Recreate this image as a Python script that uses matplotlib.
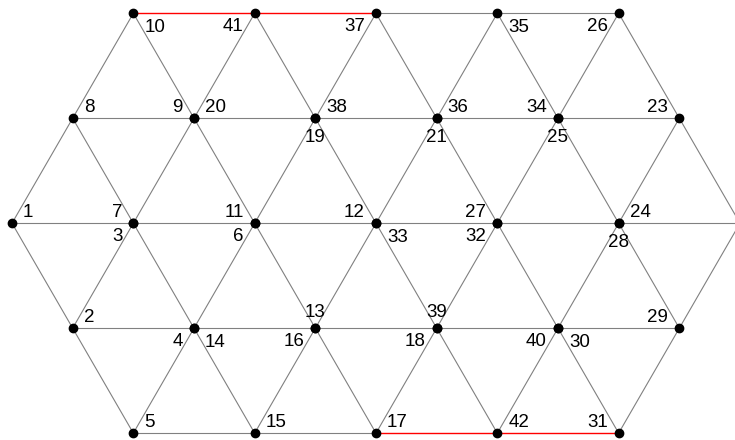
import matplotlib.pyplot as plt

# node labels and their positions (a label may share a point with another)
labels = list(range(1, 43))
node_x = [0.0, 0.5, 1.0, 1.5, 1.0, 2.0, 1.0, 0.5, 1.5, 1.0,
          2.0, 3.0, 2.5, 1.5, 2.0, 2.5, 3.0, 3.5, 2.5, 1.5,
          3.5, 6.0, 5.5, 5.0, 4.5, 5.0, 4.0, 5.0, 5.5, 4.5,
          5.0, 4.0, 3.0, 4.5, 4.0, 3.5, 3.0, 2.5, 3.5, 4.5,
          2.0, 4.0]
node_y = [1.732, 0.866, 1.732, 0.866, 0.0, 1.732, 1.732, 2.598, 2.598, 3.464,
          1.732, 1.732, 0.866, 0.866, 0.0, 0.866, 0.0, 0.866, 2.598, 2.598,
          2.598, 1.732, 2.598, 1.732, 2.598, 3.464, 1.732, 1.732, 0.866, 0.866,
          0.0, 1.732, 1.732, 2.598, 3.464, 2.598, 3.464, 2.598, 0.866, 0.866,
          3.464, 0.0]
# where each label sits around its point
label_side = ['ne', 'ne', 'sw', 'sw', 'ne', 'sw', 'nw', 'ne', 'nw', 'se',
              'nw', 'nw', 'n', 'se', 'ne', 'sw', 'ne', 'sw', 's', 'ne',
              's', 'nw', 'nw', 'ne', 's', 'sw', 'nw', 's', 'nw', 'se',
              'nw', 'sw', 'se', 'nw', 'se', 'ne', 'sw', 'ne', 'n', 'sw',
              'sw', 'ne']

edges = [(37, 35), (35, 26),
         (8, 9), (20, 38), (19, 21), (36, 34), (25, 23),
         (1, 7), (3, 6), (11, 12), (33, 27), (32, 28), (24, 22),
         (2, 4), (14, 16), (13, 18), (39, 40), (30, 29),
         (5, 15), (15, 17),
         (10, 8), (10, 9), (41, 20), (41, 19), (37, 38), (37, 21),
         (35, 36), (35, 25), (26, 34), (26, 23),
         (8, 1), (8, 7), (9, 7), (9, 11), (19, 11), (19, 12),
         (21, 12), (21, 27), (25, 27), (25, 24), (23, 24), (23, 22),
         (1, 2), (3, 2), (3, 4), (6, 4), (6, 13), (33, 13),
         (33, 18), (32, 18), (32, 40), (28, 40), (28, 29), (22, 29),
         (2, 5), (4, 5), (14, 15), (16, 15), (16, 17), (18, 17),
         (18, 42), (30, 42), (30, 31), (29, 31)]
red_edges = [(10, 41), (41, 37), (17, 42), (42, 31)]

offsets = {'ne': (11, 11, 'left'), 'nw': (-11, 11, 'right'),
           'se': (11, -14, 'left'), 'sw': (-11, -13, 'right'),
           's': (0, -19, 'center'), 'n': (0, 16, 'center')}

fig = plt.figure(figsize=(7.35, 4.4), dpi=100)
ax = fig.add_axes([0, 0, 1, 1])

for a, b in edges:
    ax.plot([node_x[a - 1], node_x[b - 1]], [node_y[a - 1], node_y[b - 1]],
            color='0.5', lw=0.8, zorder=1)
for a, b in red_edges:
    ax.plot([node_x[a - 1], node_x[b - 1]], [node_y[a - 1], node_y[b - 1]],
            color='red', lw=1.0, zorder=2)

ax.plot(node_x, node_y, 'o', color='black', ms=6, zorder=3)

for lab, x, y, side in zip(labels, node_x, node_y, label_side):
    dx, dy, ha = offsets[side]
    ax.annotate(str(lab), (x, y), xytext=(dx, dy), textcoords='offset pixels',
                ha=ha, va='center', fontsize=13.5, family='Liberation Sans')

ax.set_xlim(-0.0989, 5.9588)
ax.set_ylim(3.464 - 440 / 121.2 + 13.3 / 121.2, 3.464 + 13.3 / 121.2)
ax.axis('off')

fig.savefig('out.png', dpi=100)
